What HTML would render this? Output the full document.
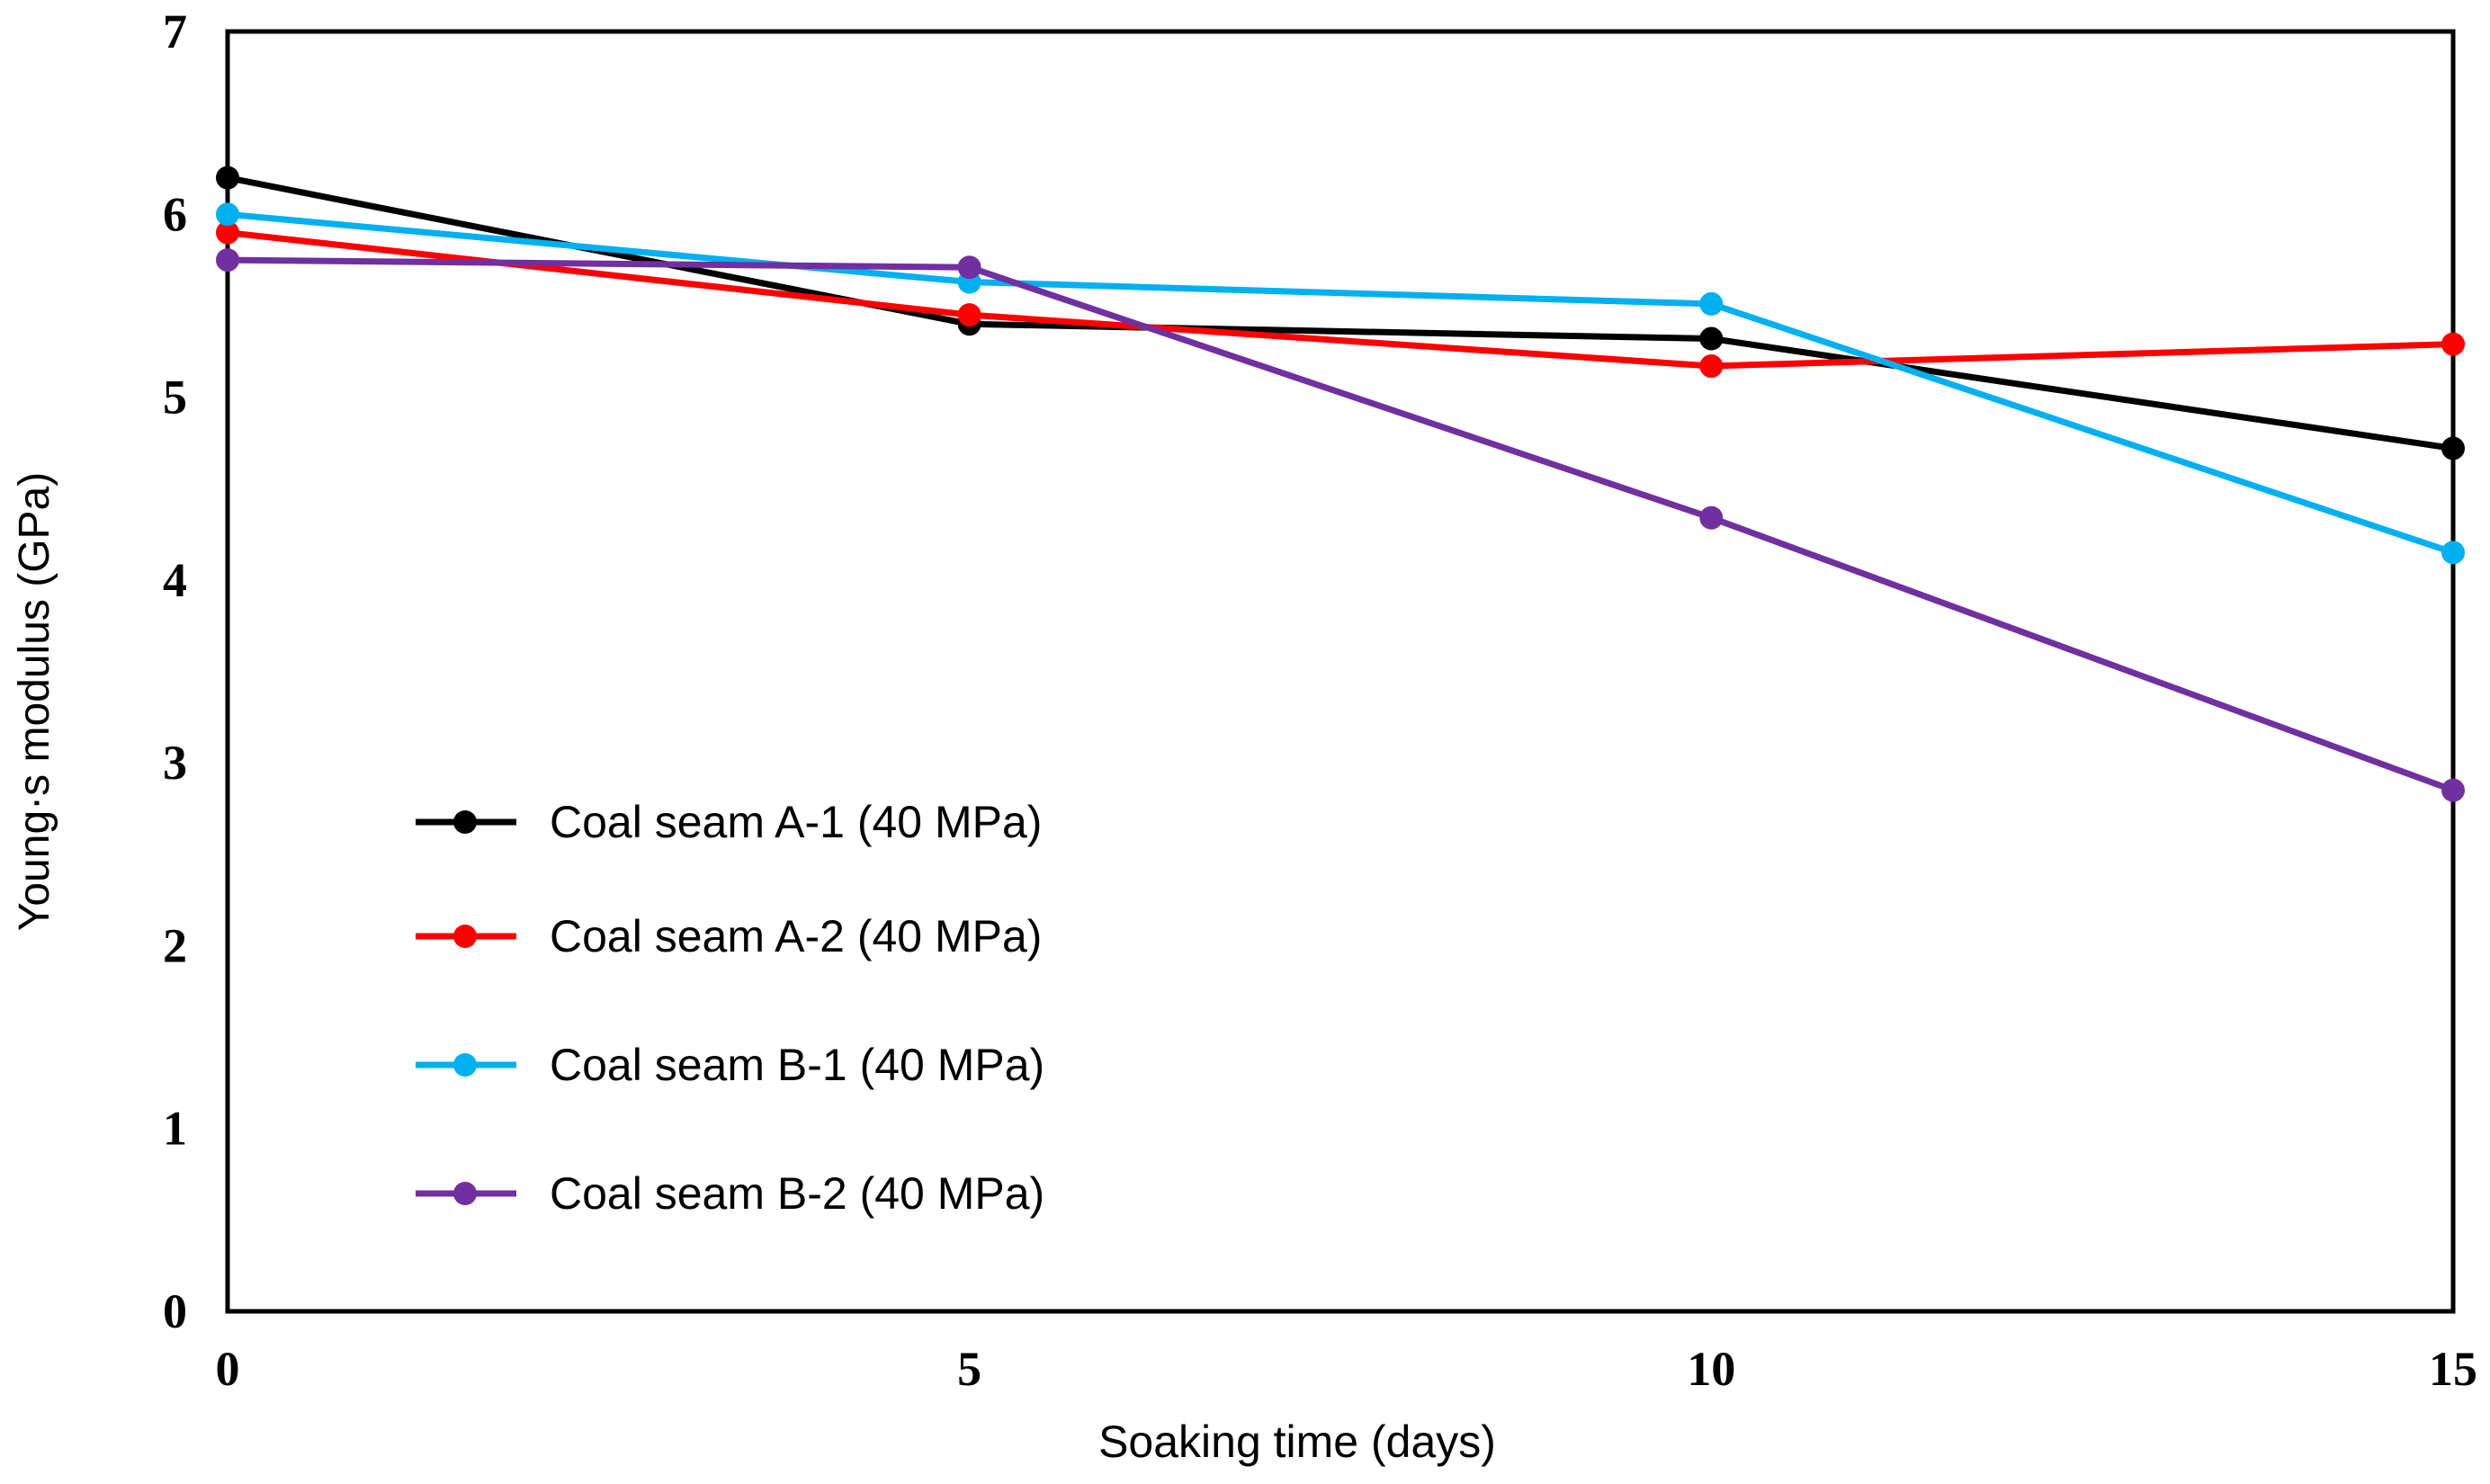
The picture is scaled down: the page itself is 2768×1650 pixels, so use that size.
<!DOCTYPE html>
<html><head><meta charset="utf-8"><style>
html,body{margin:0;padding:0;background:#fff;}
svg{display:block;}
</style></head><body>
<svg id="chart" width="2768" height="1650" xmlns="http://www.w3.org/2000/svg">
<rect x="0" y="0" width="2768" height="1650" fill="#fff"/>
</svg>
<script>
const xValues=[0,5,10,15];
const xTicks=[0,5,10,15];
const yTicks=[0,1,2,3,4,5,6,7];
const seriesNames=["Coal seam A-1 (40 MPa)","Coal seam A-2 (40 MPa)","Coal seam B-1 (40 MPa)","Coal seam B-2 (40 MPa)"];
const seriesA1=[6.2,5.4,5.32,4.72];
const seriesA2=[5.9,5.45,5.17,5.29];
const seriesB1=[6.0,5.63,5.51,4.15];
const seriesB2=[5.75,5.71,4.34,2.85];
const colors=["#000000","#ff0000","#00b0f0","#7030a0"];
const allSeries=[seriesA1,seriesA2,seriesB1,seriesB2];
const L=253,R=2727,T=35,B=1458;
const xs=v=>L+(v-0)/(15-0)*(R-L);
const ys=v=>B-(v-0)/(7-0)*(B-T);
const NS="http://www.w3.org/2000/svg";
const svg=document.getElementById('chart');
function mk(tag,attrs,parent){const e=document.createElementNS(NS,tag);for(const k in attrs)e.setAttribute(k,attrs[k]);(parent||svg).appendChild(e);return e;}
const frame=mk('rect',{x:L,y:T,width:R-L,height:B-T,fill:'none',stroke:'#000','stroke-width':5});


yTicks.forEach(v=>{
 const t=mk('text',{x:208,y:ys(v)+18,'text-anchor':'end','font-family':'Liberation Serif, serif','font-weight':'bold','font-size':54});
 t.textContent=v;
 
 
});
xTicks.forEach(v=>{
 const t=mk('text',{x:xs(v),y:1540,'text-anchor':'middle','font-family':'Liberation Serif, serif','font-weight':'bold','font-size':54});
 t.textContent=v;
 
 
});
const xt=mk('text',{x:1442,y:1620,'text-anchor':'middle','font-family':'Liberation Sans, sans-serif','font-size':50});
xt.textContent='Soaking time (days)';


const yt=mk('text',{x:54,y:780,'text-anchor':'middle','font-family':'Liberation Sans, sans-serif','font-size':48,transform:'rotate(-90 54 780)'});
yt.textContent='Young·s modulus (GPa)';


allSeries.forEach((s,i)=>{
 const g=mk('g',{});
 
 
 const pts=s.map((v,j)=>xs(xValues[j])+','+ys(v)).join(' ');
 const pl=mk('polyline',{points:pts,fill:'none',stroke:colors[i],'stroke-width':7,'stroke-linejoin':'round'},g);
 
 
 s.forEach((v,j)=>{
  const c=mk('circle',{cx:xs(xValues[j]),cy:ys(v),r:13,fill:colors[i]},g);
  
  
 });
});
const legY=[914,1041,1184,1327];
seriesNames.forEach((n,i)=>{
 const g=mk('g',{});
 
 
 mk('line',{x1:462,x2:574,y1:legY[i],y2:legY[i],stroke:colors[i],'stroke-width':7},g);
 mk('circle',{cx:517,cy:legY[i],r:13,fill:colors[i]},g);
 const t=mk('text',{x:611,y:legY[i]+17,'font-family':'Liberation Sans, sans-serif','font-size':50},g);
 t.textContent=n;
});
</script>
</body></html>
